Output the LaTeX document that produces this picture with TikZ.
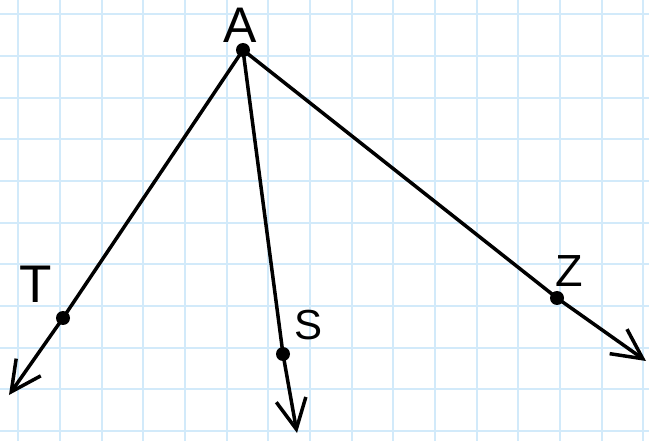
\documentclass[tikz,border=0pt]{standalone}
\usepackage{fontspec}
\setmainfont{Liberation Sans}
\usetikzlibrary{arrows.meta}
\definecolor{gridblue}{RGB}{210,234,250}
\begin{document}
\begin{tikzpicture}[x=1pt, y=-1pt,
    dot/.style={circle, fill=black, inner sep=0pt, minimum size=14pt},
    ray/.style={line width=3.5pt, line cap=round},
    tip/.style={-{Straight Barb[length=30pt, width=30pt, line width=3.5pt]}},
    lab/.style={inner sep=0pt}]
    \useasboundingbox[fill=white] (0,0) rectangle (649,441);

    % Grid paper
    \foreach \gx in {0,...,15} {
        \draw[gridblue, line width=1.8pt] (18.3+41.67*\gx,0) -- (18.3+41.67*\gx,441);
    }
    \foreach \gy in {0,...,10} {
        \draw[gridblue, line width=1.8pt] (0,14.3+41.67*\gy) -- (649,14.3+41.67*\gy);
    }

    % Points
    \node[dot] (A) at (243,50) {};
    \node[dot] (T) at (63,318) {};
    \node[dot] (S) at (283,354) {};
    \node[dot] (Z) at (557,298) {};

    % Labels
    \node[lab] (labA) at (240,25) {\fontsize{50}{50}\selectfont A};
    \node[lab] (labT) at (36,284) {\fontsize{53}{53}\selectfont T};
    \node[lab] (labS) at (309,325) {\fontsize{42}{42}\selectfont S};
    \node[lab] (labZ) at (569,271) {\fontsize{45}{45}\selectfont Z};

    % Arrow ends
    \coordinate (endT) at (9,395);
    \coordinate (endS) at (297,433);
    \coordinate (endZ) at (646,361);

    % Rays
    \draw[ray] (A.center) -- (T.center);
    \draw[ray] (A.center) -- (S.center);
    \draw[ray] (A.center) -- (Z.center);
    \draw[ray, tip] (T.center) -- (endT);
    \draw[ray, tip] (S.center) -- (endS);
    \draw[ray, tip] (Z.center) -- (endZ);

\end{tikzpicture}
\end{document}
